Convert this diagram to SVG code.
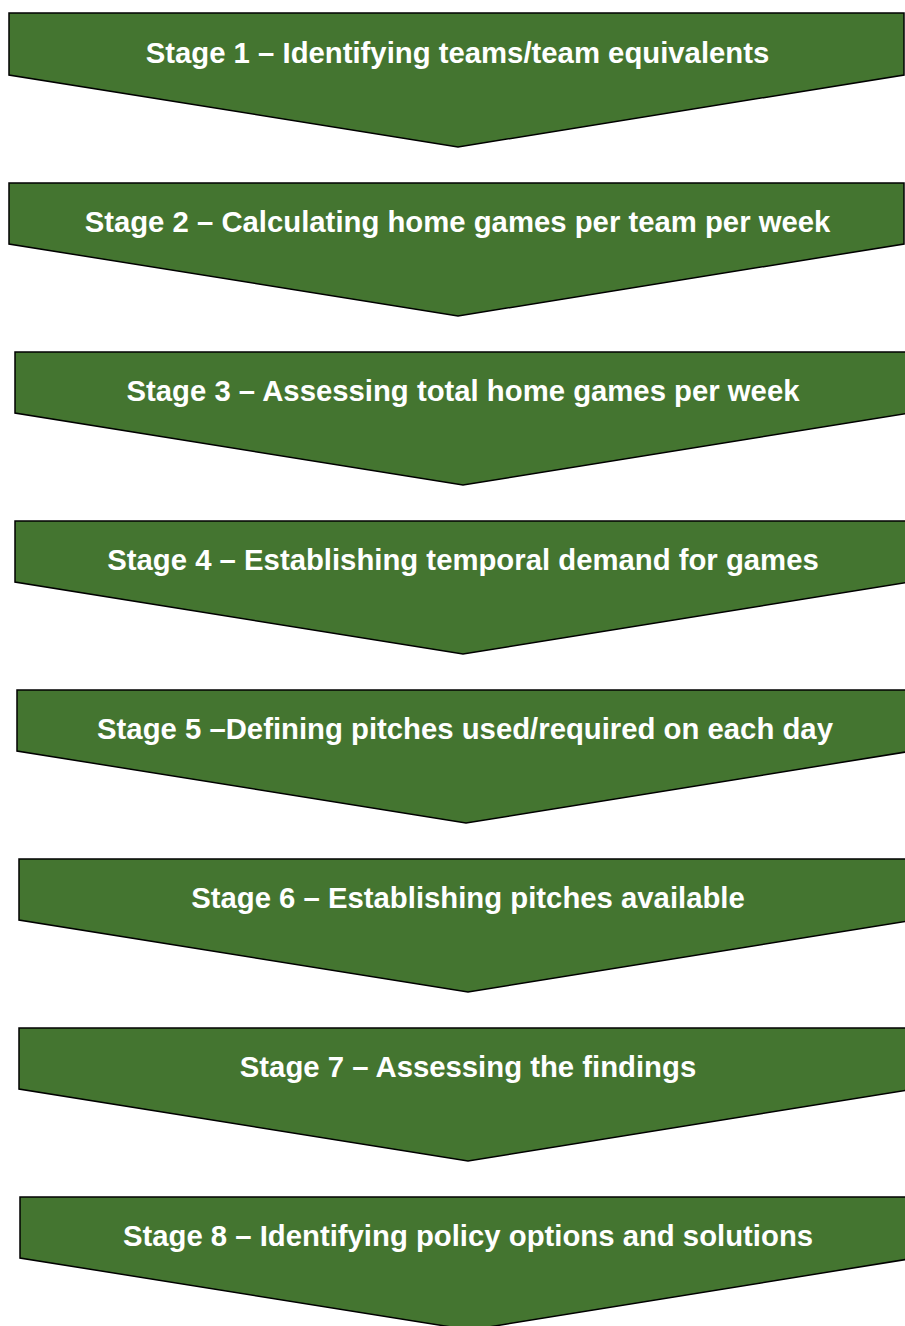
<svg xmlns="http://www.w3.org/2000/svg" width="905" height="1326" viewBox="0 0 905 1326">
<style>
.ch{fill:#447530;stroke:#000;stroke-width:1.5;stroke-linejoin:miter}
.t{font-family:"Liberation Sans",Arial,sans-serif;font-weight:bold;font-size:29.3px;fill:#fff;text-anchor:middle}
</style>
<rect width="905" height="1326" fill="#fff"/>
<g id="stage1"><polygon class="ch" points="9,13 904,13 904,75 458,147 9,75"/><text class="t" x="457.5" y="63">Stage 1 – Identifying teams/team equivalents</text></g>
<g id="stage2"><polygon class="ch" points="9,183 904,183 904,244 458,316 9,244"/><text class="t" x="457.5" y="232">Stage 2 – Calculating home games per team per week</text></g>
<g id="stage3"><polygon class="ch" points="15,352 910,352 910,413 463,485 15,413"/><text class="t" x="463" y="401">Stage 3 – Assessing total home games per week</text></g>
<g id="stage4"><polygon class="ch" points="15,521 910,521 910,582 463,654 15,582"/><text class="t" x="463" y="570">Stage 4 – Establishing temporal demand for games</text></g>
<g id="stage5"><polygon class="ch" points="17,690 912,690 912,751 466,823 17,751"/><text class="t" x="465" y="739">Stage 5 –Defining pitches used/required on each day</text></g>
<g id="stage6"><polygon class="ch" points="19,859 914,859 914,920 468,992 19,920"/><text class="t" x="468" y="908">Stage 6 – Establishing pitches available</text></g>
<g id="stage7"><polygon class="ch" points="19,1028 914,1028 914,1089 468,1161 19,1089"/><text class="t" x="468" y="1077">Stage 7 – Assessing the findings</text></g>
<g id="stage8"><polygon class="ch" points="20,1197 915,1197 915,1258 470,1330 20,1258"/><text class="t" x="468" y="1246">Stage 8 – Identifying policy options and solutions</text></g>
<g id="connectors"/>
</svg>
